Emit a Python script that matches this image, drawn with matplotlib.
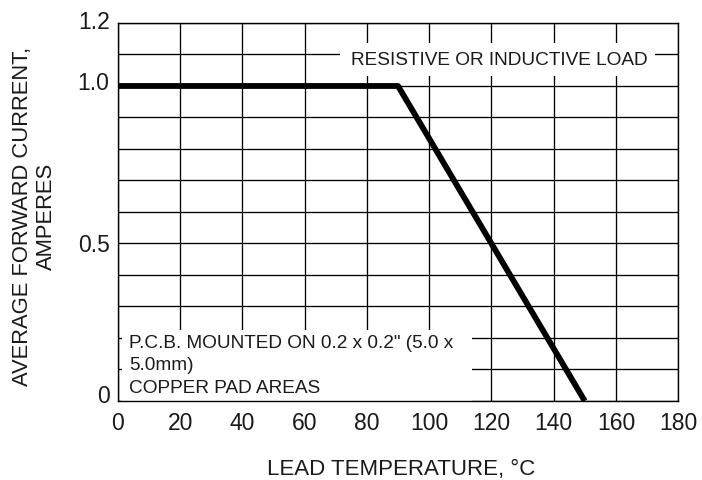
import numpy as np
import matplotlib
matplotlib.use('Agg')
import matplotlib.pyplot as plt
import matplotlib.transforms as mtrans
from matplotlib.patches import Rectangle

plt.rcParams['font.family'] = ['Liberation Sans', 'DejaVu Sans']

# derating curve
temp = [0, 90, 150]
current = [1.0, 1.0, 0.0]

xticks = [0, 20, 40, 60, 80, 100, 120, 140, 160, 180]
yticks = [0, 0.1, 0.2, 0.3, 0.4, 0.5, 0.6, 0.7, 0.8, 0.9, 1.0, 1.1, 1.2]
ylabels = ['0', '', '', '', '', '0.5', '', '', '', '', '1.0', '', '1.2']
# the scanned labels sit a little above their grid lines (pixels)
ylabel_shift = [7, 0, 0, 0, 0, 0, 0, 0, 0, 0, 5, 0, 3]

txt = '#1a1a1a'

fig = plt.figure(figsize=(7.02, 4.80), dpi=100)
ax = fig.add_axes([0.168, 0.1646, 0.798, 0.7875])

ax.plot(temp, current, color='black', lw=4.2, zorder=4, solid_capstyle='butt')

ax.set_xlim(0, 180)
ax.set_ylim(0, 1.2)
ax.set_xticks(xticks)
ax.set_xticklabels([str(t) for t in xticks], fontsize=16.5, color=txt)
ax.set_yticks(yticks)
ax.set_yticklabels(ylabels, fontsize=16.5, color=txt)
ax.tick_params(axis='x', length=0, pad=8)
ax.tick_params(axis='y', length=0, pad=6)
for lab, dy in zip(ax.get_yticklabels(), ylabel_shift):
    lab.set_transform(lab.get_transform() + mtrans.ScaledTranslation(0, dy / 100, fig.dpi_scale_trans))
ax.set_axisbelow(True)
ax.grid(True, color='black', lw=0.95)
for s in ax.spines.values():
    s.set_linewidth(1.0)
    s.set_zorder(3)

# white masks behind the notes
ax.add_patch(Rectangle((71.5, 1.032), 101, 0.105, facecolor='white', edgecolor='none', zorder=2))
ax.add_patch(Rectangle((1.3, 0), 112.5, 0.225, facecolor='white', edgecolor='none', zorder=2))

ax.text(122.5, 1.067, 'RESISTIVE OR INDUCTIVE LOAD', ha='center', va='baseline',
        fontsize=13.7, color=txt, zorder=3)
ax.text(3.5, 0.013, 'P.C.B. MOUNTED ON 0.2 x 0.2" (5.0 x\n5.0mm)\nCOPPER PAD AREAS',
        ha='left', va='bottom', fontsize=13.7, color=txt, linespacing=1.43, zorder=3)

fig.text(401 / 702, 1 - 475 / 480, 'LEAD TEMPERATURE, °C', ha='center', va='baseline',
         fontsize=16, color=txt)
fig.text(34.5 / 702, 1 - 216 / 480, 'AVERAGE FORWARD CURRENT,\nAMPERES', ha='center', va='center',
         rotation=90, multialignment='center', fontsize=15.8, color=txt, linespacing=1.2)

fig.savefig('out.png', dpi=100)
